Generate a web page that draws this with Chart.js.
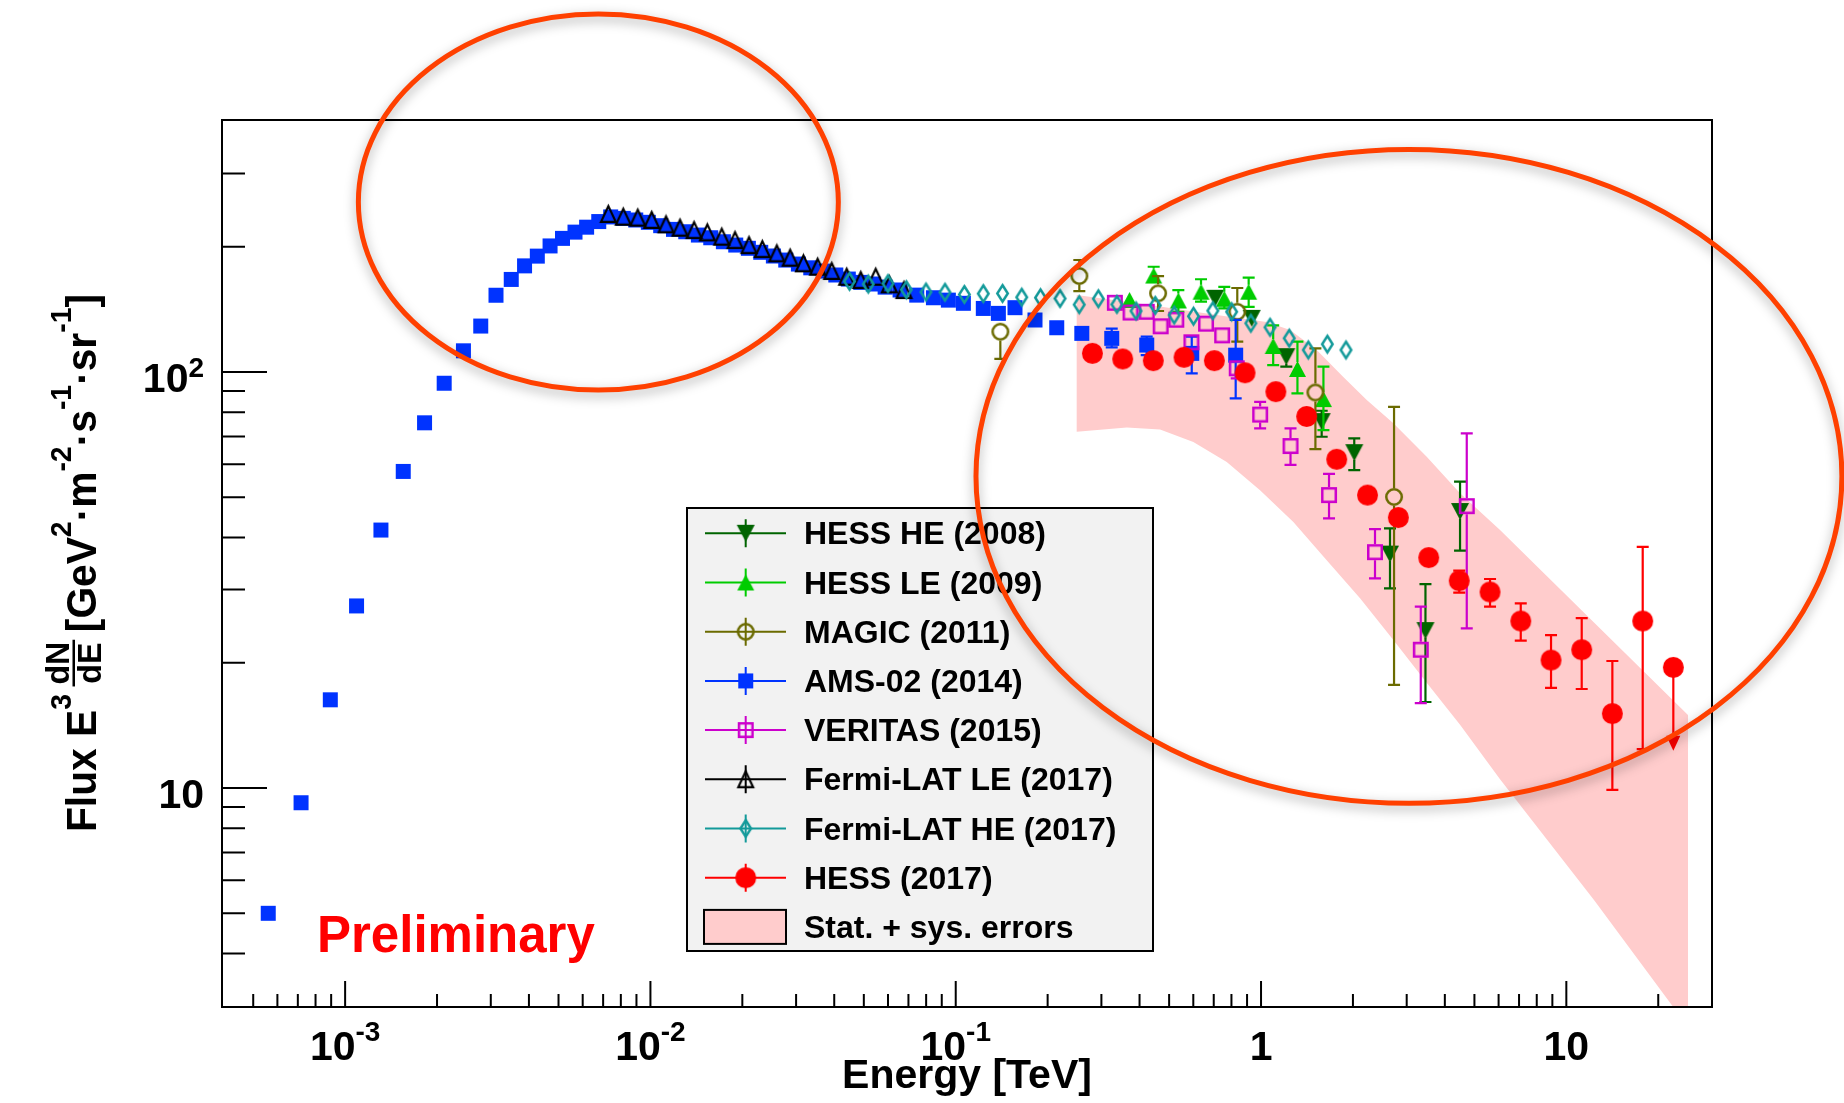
<!DOCTYPE html>
<html lang="en">
<head>
<meta charset="utf-8">
<title>Electron spectrum</title>
<script src="https://cdn.jsdelivr.net/npm/chart.js@4.4.1/dist/chart.umd.min.js"></script>
<style>
  html, body { margin: 0; padding: 0; background: #ffffff; }
  #wrap { position: relative; width: 1844px; height: 1103px; }
</style>
</head>
<body>
<div id="wrap"><canvas id="spectrumChart" width="1844" height="1103"></canvas></div>
<script>
const FONT = '"Liberation Sans", Arial, Helvetica, sans-serif';

// energies in TeV, flux E^3 dN/dE in GeV^2 m^-2 s^-1 sr^-1
const hessHeEnergy = [0.708, 0.932, 1.21, 1.58, 2.02, 2.645, 3.456, 4.486];
const hessHeFlux = [150.4, 134.6, 108.9, 76.0, 64.0, 36.5, 23.9, 46.2];
const hessHeBarEnergy = [1.21, 1.58, 2.02, 2.645, 3.456, 4.486];
const hessHeBarHigh = [113, 80.7, 69.3, 42.1, 30.9, 54.5];
const hessHeBarLow = [103, 69.9, 58.1, 30.2, 16.1, 37.2];

const hessLeEnergy = [0.371, 0.445, 0.536, 0.636, 0.758, 0.911, 1.096, 1.316, 1.601];
const hessLeFlux = [149, 170.6, 148.6, 156, 150, 156, 115.5, 101.7, 86.1];
const hessLeBarEnergy = [0.445, 0.536, 0.636, 0.758, 0.911, 1.096, 1.316, 1.601];
const hessLeBarHigh = [179.1, 157.4, 167.1, 160.3, 168.6, 129.4, 118.3, 103];
const hessLeBarLow = [163.7, 139.6, 147.6, 142.2, 143.5, 103.9, 88.9, 72.5];

const magicEnergy = [0.140, 0.254, 0.460, 0.836, 1.507, 2.727];
const magicFlux = [125, 170.1, 154.6, 139.6, 89.3, 50.1];
const magicBarEnergy = [0.140, 0.254, 0.460, 0.836, 1.507, 2.727];
const magicBarHigh = [125, 185.9, 170.1, 159.2, 114, 82.5];
const magicBarLow = [107.5, 156.5, 140.2, 118.3, 65.3, 17.7];

const amsEnergy = [0.00056, 0.000717, 0.000894, 0.00109, 0.00131, 0.00155, 0.00182, 0.00211, 0.00244, 0.00278,
  0.00312, 0.0035, 0.00387, 0.00426, 0.00469, 0.00515, 0.00566, 0.00618, 0.00677, 0.00741,
  0.00815, 0.00895, 0.00984, 0.0108, 0.0119, 0.01305, 0.01435, 0.01576, 0.01733, 0.01903,
  0.02093, 0.02298, 0.02527, 0.02774, 0.03051, 0.0335, 0.03683, 0.04046, 0.04447, 0.04885,
  0.0537, 0.0587, 0.0657, 0.0745, 0.0845, 0.0946, 0.1059, 0.1231, 0.1379, 0.1563,
  0.1818, 0.2142, 0.2587, 0.3243, 0.4222, 0.593, 0.826];
const amsFlux = [5.0, 9.22, 16.3, 27.4, 41.7, 57.7, 75.5, 94.0, 112.5, 129,
  153, 167, 180, 190, 201, 209.6, 217, 223, 230, 236,
  234.1, 232, 229.1, 224.8, 220.3, 217.4, 213.5, 210.3, 205.7, 202,
  198.4, 194, 190.1, 185.9, 181.8, 178.1, 174.9, 171.1, 167.3, 164.3,
  162.8, 160, 157.5, 153.1, 150.9, 148.9, 146.3, 142.2, 138.4, 142.8,
  133.4, 127.8, 123.9, 120.5, 116.1, 110.9, 109.8];
const amsBarEnergy = [0.3243, 0.4222, 0.593, 0.826];
const amsBarHigh = [127.2, 121.6, 121.6, 133.4];
const amsBarLow = [114.6, 109.8, 99.3, 86.4];

const veritasEnergy = [0.332, 0.3737, 0.4222, 0.469, 0.5276, 0.5916, 0.6605, 0.746, 0.8325, 0.9933, 1.249, 1.670, 2.362, 3.336, 4.719];
const veritasFlux = [146.7, 139, 139.6, 128.8, 133.6, 117.9, 130.7, 122.5, 102.1, 79.0, 66.4, 50.6, 36.9, 21.5, 47.6];
const veritasBarEnergy = [0.5916, 0.8325, 0.9933, 1.249, 1.670, 2.362, 3.336, 4.719];
const veritasBarHigh = [123.2, 105.9, 84.8, 73.2, 56.9, 41.9, 27.3, 71.2];
const veritasBarLow = [113, 96.6, 73.2, 59.8, 44.5, 31.9, 16.0, 24.2];

const fermiLeEnergy = [0.00728, 0.00815, 0.00909, 0.0101, 0.01125, 0.0125, 0.0139, 0.01536, 0.01713, 0.01893, 0.02104,
  0.02326, 0.02594, 0.02868, 0.03171, 0.0353, 0.03926, 0.04395, 0.04886, 0.0547, 0.0606, 0.0677];
const fermiLeFlux = [239.8, 236.2, 235, 232, 226.5, 222.3, 219.4, 216.6, 211.5, 207.6, 201.8,
  197.5, 192.9, 188.3, 182.5, 179.1, 174.9, 169.4, 166.4, 169.4, 162.5, 157.4];

const fermiHeEnergy = [0.0449, 0.0517, 0.0600, 0.0689, 0.0799, 0.0922, 0.1067, 0.1231, 0.1423, 0.1645, 0.1895, 0.2196, 0.2538, 0.2932,
  0.3373, 0.3896, 0.4502, 0.5193, 0.6009, 0.6953, 0.8012, 0.926, 1.070, 1.237, 1.428, 1.649, 1.898];
const fermiHeFlux = [165.2, 162.7, 163.2, 157.7, 155.7, 155.5, 153.6, 154.3, 154.5, 151.3, 150.9, 150.2, 145.2, 150,
  145.4, 140.2, 144.6, 137.1, 136.2, 140.4, 139.6, 131, 128.1, 120.6, 113, 116.7, 113];

const hess17Energy = [0.2803, 0.3524, 0.4437, 0.5596, 0.7031, 0.8863, 1.118, 1.411, 1.770, 2.233,
  2.817, 3.542, 4.459, 5.625, 7.091, 8.91, 11.23, 14.15, 17.79, 22.41];
const hess17Flux = [110.9, 107.5, 106.5, 108.5, 106.5, 99.6, 89.7, 78.2, 61.7, 50.6,
  44.7, 35.8, 31.5, 29.6, 25.2, 20.3, 21.5, 15.1, 25.2, 19.5];
const hess17BarEnergy = [4.459, 5.625, 7.091, 8.91, 11.23, 14.15, 17.79, 22.41];
const hess17BarHigh = [33.3, 31.8, 27.8, 23.3, 25.6, 20.2, 38.0, 19.5];
const hess17BarLow = [29.5, 27.3, 22.6, 17.4, 17.3, 9.9, 12.4, 12.3];
const hess17BarLimit = [false, false, false, false, false, false, false, true];

// stat + sys band of the 2017 spectrum
const bandUpperEnergy = [0.249, 0.4329, 0.716, 1.044, 1.245, 1.522, 1.860, 2.220, 2.713, 3.489, 4.486, 6.065, 25.03];
const bandUpperFlux = [153.1, 144.9, 137.1, 131.9, 126.2, 113.0, 97.3, 85.6, 75.3, 62.6, 51.1, 41.7, 14.98];
const bandLowerEnergy = [0.249, 0.3632, 0.467, 0.6002, 0.7722, 0.9925, 1.276, 1.641, 2.110, 2.713, 3.489, 4.486, 6.065, 12.32, 22.36, 25.03];
const bandLowerFlux = [71.9, 73.6, 72.8, 67.9, 60.8, 52.0, 43.6, 35.3, 28.6, 22.7, 17.9, 14.2, 10.5, 5.38, 2.98, 2.66];

const xRange = [3.951e-4, 30.0];
const yRange = [2.976, 403.5];
const xLabelValues = [1e-3, 1e-2, 1e-1, 1, 10];
const xLabelBase = ["10", "10", "10", "1", "10"];
const xLabelExp = ["-3", "-2", "-1", "", ""];
const yLabelValues = [10, 100];
const yLabelBase = ["10", "10"];
const yLabelExp = ["", "2"];

// highlight ellipses, given by their energy and flux extent
const ellipseEnergy = [[1.105e-3, 0.04126], [0.1165, 79.9]];
const ellipseFlux = [[90.5, 725.5], [9.19, 342.8]];

const colors = {
  hessHe: "#006400",
  hessLe: "#00cc00",
  magic: "#6b6b00",
  ams: "#0033ff",
  veritas: "#cc00cc",
  fermiLe: "#000000",
  fermiHe: "#139a9a",
  hess17: "#ff0000",
  band: "#ffcccc"
};

function makeMarker(shape, w, h, color, filled, lw) {
  const line = lw || 2;
  const c = document.createElement("canvas");
  c.width = Math.ceil(w + 4);
  c.height = Math.ceil(h + 4);
  const g = c.getContext("2d");
  g.translate(c.width / 2, c.height / 2);
  g.fillStyle = color;
  g.strokeStyle = color;
  g.lineWidth = line;
  const hw = filled ? w / 2 : (w - line) / 2;
  const hh = filled ? h / 2 : (h - line) / 2;
  g.beginPath();
  if (shape === "square") {
    g.rect(-hw, -hh, hw * 2, hh * 2);
  } else if (shape === "circle") {
    g.arc(0, 0, hw, 0, Math.PI * 2);
  } else if (shape === "up") {
    g.moveTo(0, -hh); g.lineTo(hw, hh); g.lineTo(-hw, hh); g.closePath();
  } else if (shape === "down") {
    g.moveTo(0, hh); g.lineTo(hw, -hh); g.lineTo(-hw, -hh); g.closePath();
  } else if (shape === "diamond") {
    g.moveTo(0, -hh); g.lineTo(hw, 0); g.lineTo(0, hh); g.lineTo(-hw, 0); g.closePath();
  }
  if (filled) g.fill(); else g.stroke();
  return c;
}

const markers = {
  hessHe: makeMarker("down", 18, 17, colors.hessHe, true),
  hessLe: makeMarker("up", 17, 16, colors.hessLe, true),
  magic: makeMarker("circle", 18, 18, colors.magic, false, 2.5),
  ams: makeMarker("square", 15, 15, colors.ams, true),
  veritas: makeMarker("square", 16, 16, colors.veritas, false, 2.5),
  fermiLe: makeMarker("up", 17, 18, colors.fermiLe, false, 2.2),
  fermiHe: makeMarker("diamond", 13, 19, colors.fermiHe, false, 2.5),
  hess17: makeMarker("circle", 21, 21, colors.hess17, true)
};

const toPoints = (xs, ys) => xs.map((x, i) => ({ x, y: ys[i] }));

function series(label, xs, ys, key, order, bars, gap) {
  return {
    label,
    data: toPoints(xs, ys),
    showLine: false,
    borderColor: colors[key],
    backgroundColor: colors[key],
    pointStyle: markers[key],
    pointRadius: 6,
    pointHoverRadius: 6,
    order,
    bars,
    barGap: gap || 0
  };
}

const bandPolygon = toPoints(bandUpperEnergy, bandUpperFlux)
  .concat(toPoints(bandLowerEnergy, bandLowerFlux).reverse());

const datasets = [
  series("HESS HE (2008)", hessHeEnergy, hessHeFlux, "hessHe", 9,
    { e: hessHeBarEnergy, hi: hessHeBarHigh, lo: hessHeBarLow }, 7),
  series("HESS LE (2009)", hessLeEnergy, hessLeFlux, "hessLe", 8,
    { e: hessLeBarEnergy, hi: hessLeBarHigh, lo: hessLeBarLow }, 7),
  series("MAGIC (2011)", magicEnergy, magicFlux, "magic", 7,
    { e: magicBarEnergy, hi: magicBarHigh, lo: magicBarLow }, 9),
  series("AMS-02 (2014)", amsEnergy, amsFlux, "ams", 6,
    { e: amsBarEnergy, hi: amsBarHigh, lo: amsBarLow }, 7),
  series("VERITAS (2015)", veritasEnergy, veritasFlux, "veritas", 5,
    { e: veritasBarEnergy, hi: veritasBarHigh, lo: veritasBarLow }, 8),
  series("Fermi-LAT LE (2017)", fermiLeEnergy, fermiLeFlux, "fermiLe", 4, null, 0),
  series("Fermi-LAT HE (2017)", fermiHeEnergy, fermiHeFlux, "fermiHe", 3, null, 0),
  series("HESS (2017)", hess17Energy, hess17Flux, "hess17", 2,
    { e: hess17BarEnergy, hi: hess17BarHigh, lo: hess17BarLow, limit: hess17BarLimit }, 9),
  {
    label: "Stat. + sys. errors",
    data: bandPolygon,
    showLine: true,
    fill: "shape",
    backgroundColor: colors.band,
    borderColor: "rgba(0,0,0,0)",
    borderWidth: 0,
    pointRadius: 0,
    tension: 0,
    order: 20
  }
];

// vertical error bars, drawn just before the markers of each series
const errorBars = {
  id: "errorBars",
  beforeDatasetDraw(chart, args) {
    const ds = chart.data.datasets[args.index];
    if (!ds.bars) return;
    const { ctx, chartArea: a } = chart;
    const ys = chart.scales.y;
    const cap = 6;
    ctx.save();
    ctx.beginPath();
    ctx.rect(a.left, a.top, a.right - a.left, a.bottom - a.top);
    ctx.clip();
    ctx.strokeStyle = ds.borderColor;
    ctx.fillStyle = ds.borderColor;
    ctx.lineWidth = 2.2;
    ds.bars.e.forEach((e, k) => {
      const idx = ds.data.findIndex(p => p.x === e);
      if (idx < 0) return;
      const pt = args.meta.data[idx];
      const px = pt.x, py = pt.y;
      const yh = ys.getPixelForValue(ds.bars.hi[k]);
      const yl = ys.getPixelForValue(ds.bars.lo[k]);
      const gap = ds.barGap;
      const isLimit = ds.bars.limit && ds.bars.limit[k];
      ctx.beginPath();
      if (yh < py - gap - 1) {
        ctx.moveTo(px, py - gap); ctx.lineTo(px, yh);
        ctx.moveTo(px - cap, yh); ctx.lineTo(px + cap, yh);
      }
      if (yl > py + gap + 1) {
        ctx.moveTo(px, py + gap); ctx.lineTo(px, isLimit ? yl - 12 : yl);
        if (!isLimit) { ctx.moveTo(px - cap, yl); ctx.lineTo(px + cap, yl); }
      }
      ctx.stroke();
      if (isLimit) {
        ctx.beginPath();
        ctx.moveTo(px, yl); ctx.lineTo(px - 7, yl - 15); ctx.lineTo(px + 7, yl - 15);
        ctx.closePath();
        ctx.fill();
      }
    });
    ctx.restore();
  }
};

function drawYTitle(ctx) {
  const pieces = [
    { t: "Flux E", f: 43, dy: 0, gap: 0 },
    { t: "3", f: 30, dy: -25, gap: 8 },
    { frac: ["dN", "dE"], f: 34, gap: 8 },
    { t: "[GeV", f: 43, dy: 0, gap: 0 },
    { t: "2", f: 30, dy: -25, gap: 0 },
    { t: "\u00b7m", f: 43, dy: 0, gap: 0 },
    { t: "-2", f: 30, dy: -25, gap: 0 },
    { t: "\u00b7s", f: 43, dy: 0, gap: 0 },
    { t: "-1", f: 30, dy: -25, gap: 0 },
    { t: "\u00b7sr", f: 43, dy: 0, gap: 0 },
    { t: "-1", f: 30, dy: -25, gap: 0 },
    { t: "]", f: 43, dy: 0, gap: 0 }
  ];
  let total = 0;
  pieces.forEach(p => {
    ctx.font = `bold ${p.f}px ${FONT}`;
    if (p.frac) {
      p.w = Math.max(ctx.measureText(p.frac[0]).width, ctx.measureText(p.frac[1]).width) + 4;
    } else {
      p.w = ctx.measureText(p.t).width;
    }
    total += p.w + p.gap;
  });
  ctx.save();
  ctx.translate(96, 832);
  ctx.rotate(-Math.PI / 2);
  ctx.scale(538 / total, 1);
  ctx.fillStyle = "#000";
  ctx.textAlign = "left";
  ctx.textBaseline = "alphabetic";
  let cx = 0;
  pieces.forEach(p => {
    ctx.font = `bold ${p.f}px ${FONT}`;
    if (p.frac) {
      const wn = ctx.measureText(p.frac[0]).width;
      const wd = ctx.measureText(p.frac[1]).width;
      ctx.fillText(p.frac[0], cx + (p.w - wn) / 2, -27);
      ctx.fillRect(cx, -23.5, p.w, 2.5);
      ctx.fillText(p.frac[1], cx + (p.w - wd) / 2, 5);
    } else {
      ctx.fillText(p.t, cx, p.dy);
    }
    cx += p.w + p.gap;
  });
  ctx.restore();
}

// ROOT style frame: ticks inside the box, labels with exponents
const frameAxes = {
  id: "frameAxes",
  afterDatasetsDraw(chart) {
    const { ctx, chartArea: a } = chart;
    const xs = chart.scales.x, ys = chart.scales.y;
    ctx.save();
    ctx.strokeStyle = "#000";
    ctx.lineWidth = 2;
    ctx.strokeRect(a.left, a.top, a.right - a.left, a.bottom - a.top);

    ctx.beginPath();
    for (let d = -4; d <= 1; d++) {
      for (let m = 1; m <= 9; m++) {
        const px = xs.getPixelForValue(m * Math.pow(10, d));
        if (px < a.left + 4 || px > a.right - 4) continue;
        ctx.moveTo(px, a.bottom);
        ctx.lineTo(px, a.bottom - (m === 1 ? 26 : 13));
      }
    }
    for (let d = 0; d <= 2; d++) {
      for (let m = 1; m <= 9; m++) {
        const py = ys.getPixelForValue(m * Math.pow(10, d));
        if (py < a.top + 4 || py > a.bottom - 4) continue;
        ctx.moveTo(a.left, py);
        ctx.lineTo(a.left + (m === 1 ? 45 : 23), py);
      }
    }
    ctx.stroke();

    ctx.fillStyle = "#000";
    ctx.textAlign = "left";
    ctx.textBaseline = "alphabetic";
    xLabelValues.forEach((v, i) => {
      const px = xs.getPixelForValue(v);
      ctx.font = `bold 41px ${FONT}`;
      const wb = ctx.measureText(xLabelBase[i]).width;
      ctx.font = `bold 28px ${FONT}`;
      const we = xLabelExp[i] ? ctx.measureText(xLabelExp[i]).width : 0;
      const left = px - (wb + we) / 2;
      ctx.font = `bold 41px ${FONT}`;
      ctx.fillText(xLabelBase[i], left, a.bottom + 53);
      if (xLabelExp[i]) {
        ctx.font = `bold 28px ${FONT}`;
        ctx.fillText(xLabelExp[i], left + wb, a.bottom + 34);
      }
    });
    yLabelValues.forEach((v, i) => {
      const py = ys.getPixelForValue(v);
      ctx.font = `bold 41px ${FONT}`;
      const wb = ctx.measureText(yLabelBase[i]).width;
      ctx.font = `bold 28px ${FONT}`;
      const we = yLabelExp[i] ? ctx.measureText(yLabelExp[i]).width : 0;
      const left = a.left - 18 - wb - we;
      ctx.font = `bold 41px ${FONT}`;
      ctx.fillText(yLabelBase[i], left, py + 20);
      if (yLabelExp[i]) {
        ctx.font = `bold 28px ${FONT}`;
        ctx.fillText(yLabelExp[i], left + wb, py + 5);
      }
    });

    ctx.font = `bold 41px ${FONT}`;
    ctx.textAlign = "center";
    ctx.fillText("Energy [TeV]", (a.left + a.right) / 2, 1088);
    drawYTitle(ctx);
    ctx.restore();
  }
};

const overlay = {
  id: "overlay",
  afterDraw(chart) {
    const { ctx } = chart;
    const xs = chart.scales.x, ys = chart.scales.y;
    ctx.save();

    ctx.fillStyle = "#ff0000";
    ctx.font = `bold 51px ${FONT}`;
    ctx.textAlign = "left";
    ctx.textBaseline = "alphabetic";
    ctx.fillText("Preliminary", 317, 952);

    // legend box
    const bx = 687, by = 508, bw = 466, bh = 443;
    ctx.fillStyle = "#f2f2f2";
    ctx.fillRect(bx, by, bw, bh);
    ctx.strokeStyle = "#000";
    ctx.lineWidth = 2;
    ctx.strokeRect(bx, by, bw, bh);
    ctx.font = `bold 32px ${FONT}`;
    chart.data.datasets.forEach((ds, i) => {
      const ry = 533.3 + i * 49.2;
      if (ds.pointStyle instanceof HTMLCanvasElement) {
        ctx.strokeStyle = ds.borderColor;
        ctx.lineWidth = 2;
        ctx.beginPath();
        ctx.moveTo(705, ry); ctx.lineTo(786, ry);
        ctx.moveTo(745.7, ry - 14); ctx.lineTo(745.7, ry + 14);
        ctx.stroke();
        const img = ds.pointStyle;
        ctx.drawImage(img, 745.7 - img.width / 2, ry - img.height / 2);
      } else {
        ctx.fillStyle = ds.backgroundColor;
        ctx.fillRect(704, ry - 17, 82, 34);
        ctx.strokeStyle = "#000";
        ctx.lineWidth = 2;
        ctx.strokeRect(704, ry - 17, 82, 34);
      }
      ctx.fillStyle = "#000";
      ctx.fillText(ds.label, 804, ry + 11);
    });

    // highlight ellipses
    ctx.strokeStyle = "#ff4000";
    ctx.lineWidth = 5;
    ctx.shadowColor = "rgba(0,0,0,0.35)";
    ctx.shadowBlur = 12;
    ctx.shadowOffsetY = 4;
    ellipseEnergy.forEach((er, i) => {
      const x0 = xs.getPixelForValue(er[0]), x1 = xs.getPixelForValue(er[1]);
      const y0 = ys.getPixelForValue(ellipseFlux[i][0]), y1 = ys.getPixelForValue(ellipseFlux[i][1]);
      ctx.beginPath();
      ctx.ellipse((x0 + x1) / 2, (y0 + y1) / 2, Math.abs(x1 - x0) / 2, Math.abs(y1 - y0) / 2, 0, 0, Math.PI * 2);
      ctx.stroke();
    });
    ctx.restore();
  }
};

new Chart(document.getElementById("spectrumChart"), {
  type: "line",
  data: { datasets },
  options: {
    responsive: false,
    animation: false,
    devicePixelRatio: 1,
    events: [],
    layout: { padding: { left: 0, top: 120, right: 132, bottom: 0 } },
    plugins: {
      legend: { display: false },
      tooltip: { enabled: false }
    },
    scales: {
      x: {
        type: "logarithmic",
        min: xRange[0],
        max: xRange[1],
        grid: { display: false },
        border: { display: false },
        ticks: { display: false },
        afterFit: scale => { scale.height = 96; }
      },
      y: {
        type: "logarithmic",
        min: yRange[0],
        max: yRange[1],
        grid: { display: false },
        border: { display: false },
        ticks: { display: false },
        afterFit: scale => { scale.width = 222; }
      }
    }
  },
  plugins: [errorBars, frameAxes, overlay]
});
</script>
</body>
</html>
